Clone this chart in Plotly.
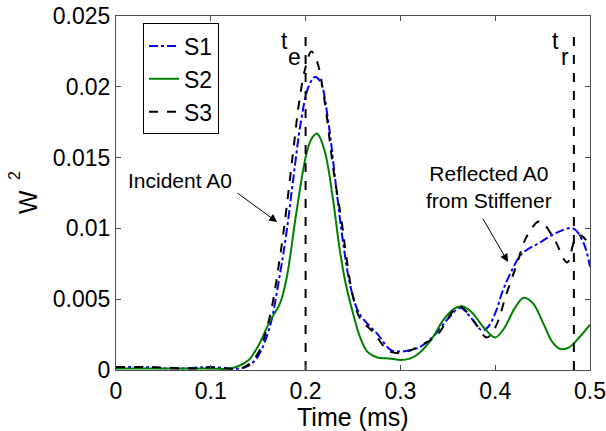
import plotly.graph_objects as go

# ---- data ----
t_s1 = [0, 0.03, 0.06, 0.10, 0.13, 0.14, 0.15, 0.162, 0.173, 0.18, 0.187, 0.195, 0.203, 0.21, 0.216,
        0.224, 0.232, 0.24, 0.247, 0.255, 0.262, 0.275, 0.29, 0.30, 0.31, 0.32, 0.335, 0.35, 0.363,
        0.373, 0.386, 0.392, 0.40, 0.408, 0.418, 0.428, 0.447, 0.465, 0.482, 0.493, 0.50]
w_s1 = [0.0002, 0.0002, 0.0001, 0.0002, 0.0001, 0.0003, 0.0010, 0.0030, 0.0068, 0.0098, 0.0135, 0.0175,
        0.0200, 0.0207, 0.0203, 0.0175, 0.0130, 0.0088, 0.0060, 0.0042, 0.0035, 0.0026, 0.0014, 0.0013,
        0.0014, 0.0016, 0.0024, 0.0036, 0.0044, 0.0038, 0.0028, 0.0030, 0.0040, 0.0056, 0.0071, 0.0082,
        0.0090, 0.0097, 0.0100, 0.0090, 0.0073]

t_s2 = [0, 0.05, 0.10, 0.12, 0.13, 0.14, 0.15, 0.162, 0.173, 0.18, 0.19, 0.20, 0.206, 0.212, 0.22,
        0.229, 0.236, 0.242, 0.25, 0.257, 0.265, 0.275, 0.29, 0.30, 0.31, 0.32, 0.333, 0.345, 0.356,
        0.365, 0.375, 0.388, 0.40, 0.41, 0.42, 0.43, 0.44, 0.45, 0.46, 0.468, 0.478, 0.49, 0.50]
w_s2 = [0.0001, 0.0001, 0.0001, 0.0001, 0.0003, 0.0007, 0.0017, 0.0034, 0.0047, 0.0065, 0.0110, 0.0150,
        0.0163, 0.0167, 0.0155, 0.0120, 0.0085, 0.0062, 0.0040, 0.0024, 0.0013, 0.0009, 0.0008, 0.0007,
        0.0008, 0.0012, 0.0022, 0.0035, 0.0043, 0.0045, 0.0041, 0.0030, 0.0023, 0.0030, 0.0043, 0.0051,
        0.0047, 0.0034, 0.0020, 0.0015, 0.0016, 0.0024, 0.0032]

t_s3 = [0, 0.04, 0.08, 0.10, 0.13, 0.14, 0.15, 0.162, 0.173, 0.18, 0.187, 0.194, 0.20, 0.206, 0.212,
        0.22, 0.229, 0.238, 0.243, 0.249, 0.257, 0.271, 0.289, 0.307, 0.32, 0.338, 0.356, 0.363, 0.377,
        0.391, 0.40, 0.412, 0.423, 0.433, 0.447, 0.461, 0.476, 0.484, 0.49, 0.50]
w_s3 = [0.0002, 0.0002, 0.0001, 0.0002, 0.0001, 0.0004, 0.0012, 0.0037, 0.0080, 0.0115, 0.0155, 0.0193,
        0.0214, 0.0225, 0.0218, 0.0190, 0.0143, 0.0105, 0.0080, 0.0055, 0.0037, 0.0027, 0.0013, 0.0013,
        0.0017, 0.0024, 0.0042, 0.0045, 0.0035, 0.0023, 0.0030, 0.0054, 0.0075, 0.0094, 0.0105, 0.0094,
        0.0076, 0.0092, 0.0095, 0.0088]

t_e = 0.200
t_r = 0.483
marker_top = 0.0237

x_ticks = [0, 0.1, 0.2, 0.3, 0.4, 0.5]
x_tick_text = ["0", "0.1", "0.2", "0.3", "0.4", "0.5"]
y_ticks = [0, 0.005, 0.01, 0.015, 0.02, 0.025]
y_tick_text = ["0", "0.005", "0.01", "0.015", "0.02", "0.025"]

FONT = "Liberation Sans, Arial, sans-serif"

fig = go.Figure()
fig.add_trace(go.Scatter(x=t_s1, y=w_s1, name="S1", mode="lines", line_shape="spline",
                         line=dict(color="#0000ff", width=2, dash="dashdot")))
fig.add_trace(go.Scatter(x=t_s2, y=w_s2, name="S2", mode="lines", line_shape="spline",
                         line=dict(color="#008000", width=2, dash="solid")))
fig.add_trace(go.Scatter(x=t_s3, y=w_s3, name="S3", mode="lines", line_shape="spline",
                         line=dict(color="#000000", width=2, dash="dash")))

# vertical marker lines
for tv in [t_e, t_r]:
    fig.add_trace(go.Scatter(x=[tv, tv], y=[0, marker_top], mode="lines", showlegend=False,
                             line=dict(color="black", width=2, dash="dash"), hoverinfo="skip"))

lab_font = dict(size=23, family=FONT, color="black")
ann = []
# t_e and t_r labels (subscript drawn at full size, lowered, as in the reference)
ann.append(dict(x=0.1777, y=0.02323, xref="x", yref="y", text="t", showarrow=False,
                xanchor="center", yanchor="middle", font=lab_font))
ann.append(dict(x=0.1888, y=0.02207, xref="x", yref="y", text="e", showarrow=False,
                xanchor="center", yanchor="middle", font=lab_font))
ann.append(dict(x=0.4641, y=0.02323, xref="x", yref="y", text="t", showarrow=False,
                xanchor="center", yanchor="middle", font=lab_font))
ann.append(dict(x=0.4731, y=0.02207, xref="x", yref="y", text="r", showarrow=False,
                xanchor="center", yanchor="middle", font=lab_font))
ann.append(dict(x=0.0675, y=0.0134, xref="x", yref="y", text="Incident A0", showarrow=False,
                font=dict(size=21, family=FONT, color="black")))
ann.append(dict(x=0.17, y=0.01045, xref="x", yref="y", ax=0.1266, ay=0.01257, axref="x", ayref="y",
                text="", showarrow=True, arrowhead=2, arrowsize=1.6, arrowwidth=1, arrowcolor="black"))
ann.append(dict(x=0.3935, y=0.0129, xref="x", yref="y", text="Reflected A0<br>from Stiffener",
                showarrow=False, font=dict(size=21, family=FONT, color="black")))
ann.append(dict(x=0.4135, y=0.00763, xref="x", yref="y", ax=0.386, ay=0.0108, axref="x", ayref="y",
                text="", showarrow=True, arrowhead=2, arrowsize=1.6, arrowwidth=1, arrowcolor="black"))
# y-axis title "W^2" (exponent raised well clear of the W, as in the reference)
ann.append(dict(x=-0.1846, y=0.476, xref="paper", yref="paper", text="W", showarrow=False,
                textangle=-90, xanchor="center", yanchor="middle",
                font=dict(size=25, family=FONT, color="black")))
ann.append(dict(x=-0.2131, y=0.551, xref="paper", yref="paper", text="2", showarrow=False,
                textangle=-90, xanchor="center", yanchor="middle",
                font=dict(size=16, family=FONT, color="black")))
ann.append(dict(x=0.499, y=-0.133, xref="paper", yref="paper", text="Time (ms)", showarrow=False,
                yanchor="middle", font=dict(size=25, family=FONT, color="black")))

axis_common = dict(showgrid=False, zeroline=False, showline=True, linecolor="#4d4d4d", linewidth=1,
                   mirror="ticks", ticks="inside", ticklen=5, tickcolor="#4d4d4d",
                   ticklabeloverflow="allow", automargin=False,
                   tickfont=dict(size=23, family=FONT, color="black"))

fig.update_layout(
    width=606, height=431,
    margin=dict(l=116, r=16, t=16, b=61, autoexpand=False),
    paper_bgcolor="white", plot_bgcolor="white",
    xaxis=dict(range=[0, 0.5], tickvals=x_ticks, ticktext=x_tick_text, **axis_common),
    yaxis=dict(range=[0, 0.025], tickvals=y_ticks, ticktext=y_tick_text, **axis_common),
    legend=dict(x=0.057, y=0.979, xanchor="left", yanchor="top", bgcolor="white",
                bordercolor="black", borderwidth=1, font=dict(size=23, family=FONT, color="black"),
                tracegroupgap=0, itemwidth=30, entrywidth=63, entrywidthmode="pixels"),
    annotations=ann,
    showlegend=True,
)

fig.write_html("out.html")
